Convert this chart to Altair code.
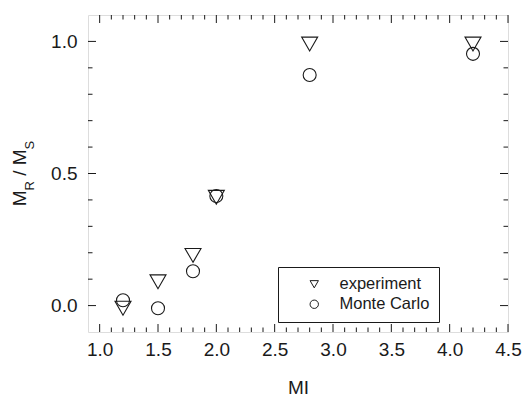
import altair as alt
import pandas as pd

# ---- data ----
MI = [1.2, 1.5, 1.8, 2.0, 2.8, 4.2]
experiment = [-0.01, 0.09, 0.19, 0.41, 0.99, 0.99]
monte_carlo = [0.02, -0.01, 0.13, 0.415, 0.873, 0.953]
series_names = ["experiment", "Monte Carlo"]

x_major = [1.0, 1.5, 2.0, 2.5, 3.0, 3.5, 4.0, 4.5]
x_minor = [1.1, 1.2, 1.3, 1.4, 1.6, 1.7, 1.8, 1.9, 2.1, 2.2, 2.3, 2.4,
           2.6, 2.7, 2.8, 2.9, 3.1, 3.2, 3.3, 3.4, 3.6, 3.7, 3.8, 3.9,
           4.1, 4.2, 4.3, 4.4]
y_major = [0.0, 0.5, 1.0]
y_minor = [0.1, 0.2, 0.3, 0.4, 0.6, 0.7, 0.8, 0.9]

W, H = 420, 317
FONT = "Liberation Sans"
INK = "#1a1a1a"
MAJ, MIN = 8, 4.5
FS = 19

xs = alt.Scale(domain=[0.9, 4.5], nice=False, zero=False)
ys = alt.Scale(domain=[-0.1, 1.1], nice=False, zero=False)

df_exp = pd.DataFrame({"MI": MI, "val": experiment, "series": series_names[0]})
df_mc = pd.DataFrame({"MI": MI, "val": monte_carlo, "series": series_names[1]})

x_axis = alt.Axis(
    values=x_major, format=".1f", ticks=False, domain=False, grid=False,
    labelFont=FONT, labelFontSize=FS, labelColor=INK, labelPadding=8,
    labelFlush=False, labelOverlap=False,
    title="MI", titleFont=FONT, titleFontSize=FS, titleFontWeight="normal",
    titleColor=INK, titlePadding=19)
y_axis = alt.Axis(
    values=y_major, format=".1f", ticks=False, domain=False, grid=False,
    labelFont=FONT, labelFontSize=FS, labelColor=INK, labelPadding=11,
    labelFlush=False, title=None)
shape_enc = alt.Shape(
    "series:N",
    scale=alt.Scale(domain=series_names, range=["triangle-down", "circle"]),
    legend=alt.Legend(orient="none", legendX=190, legendY=252, title=None,
                      strokeColor=INK, padding=9, fillColor="white",
                      labelFont=FONT, labelFontSize=16.5, labelColor=INK,
                      symbolSize=70, symbolStrokeWidth=1, symbolStrokeColor=INK,
                      symbolOffset=19, labelOffset=17, rowPadding=3))

def points(d, size):
    return alt.Chart(d).mark_point(filled=False, color=INK, strokeWidth=1.1, opacity=1, size=size).encode(
        x=alt.X("MI:Q", scale=xs, axis=x_axis),
        y=alt.Y("val:Q", scale=ys, axis=y_axis),
        shape=shape_enc,
    )

def xticks(vals, length, top):
    d = pd.DataFrame({"v": vals})
    y0 = 0 if top else H
    y1 = length if top else H - length
    return alt.Chart(d).mark_rule(color=INK, strokeWidth=1).encode(
        x=alt.X("v:Q", scale=xs, axis=x_axis), y=alt.value(y0), y2=alt.value(y1))

def yticks(vals, length, right):
    d = pd.DataFrame({"v": vals})
    x0 = W if right else 0
    x1 = W - length if right else length
    return alt.Chart(d).mark_rule(color=INK, strokeWidth=1).encode(
        y=alt.Y("v:Q", scale=ys, axis=y_axis), x=alt.value(x0), x2=alt.value(x1))

ticks = [
    xticks(x_major, MAJ, False), xticks(x_minor, MIN, False),
    xticks(x_major, MAJ, True), xticks(x_minor, MIN, True),
    yticks(y_major, MAJ, False), yticks(y_minor, MIN, False),
    yticks(y_major, MAJ, True), yticks(y_minor, MIN, True),
]

def ytitle_part(txt, size, xpos, ypos):
    return alt.Chart(pd.DataFrame({"t": [txt]})).mark_text(
        font=FONT, fontSize=size, color=INK, angle=270, align="left", baseline="alphabetic"
    ).encode(text="t:N", x=alt.value(xpos), y=alt.value(ypos))

ytitle = [
    ytitle_part("M", FS, -62.5, 191.3),
    ytitle_part("R", 13, -54.5, 175.5),
    ytitle_part("/", FS, -62.5, 160.8),
    ytitle_part("M", FS, -62.5, 150.2),
    ytitle_part("S", 13, -54.5, 134.4),
]

chart = alt.layer(points(df_exp, 256), points(df_mc, 169), *ticks, *ytitle).properties(
    width=W, height=H, autosize="none",
    padding={"left": 88, "top": 15, "right": 527 - 88 - W, "bottom": 396 - 15 - H},
).configure_view(stroke=INK, strokeWidth=1.5).configure(background="white")

chart.save("out.html", embed_options={"renderer": "svg", "actions": False})
